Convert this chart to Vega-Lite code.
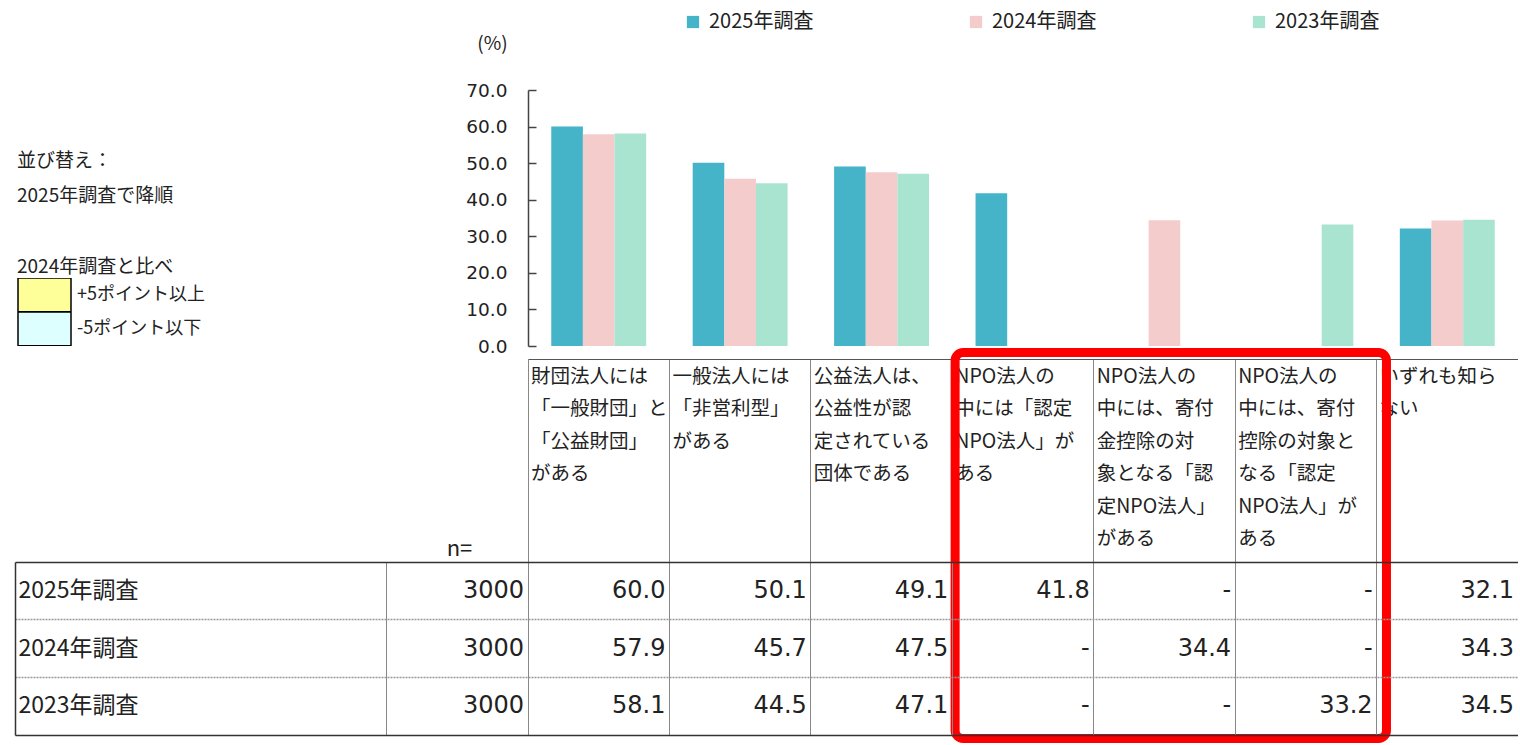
{
  "$schema": "https://vega.github.io/schema/vega-lite/v6.json",
  "padding": {"left": 15, "top": 12, "right": 0, "bottom": 0},
  "autosize": {"type": "pad"},
  "background": "white",
  "spacing": 472,
  "bounds": "flush",
  "config": {
    "font": "Noto Sans CJK JP",
    "view": {"stroke": null},
    "axis": {"labelFontWeight": "normal", "titleFontWeight": "normal"}
  },
  "datasets": {
    "results": [
      {"category": "財団法人には\n「一般財団」と\n「公益財団」\nがある", "survey": "2025年調査", "value": 60.0},
      {"category": "財団法人には\n「一般財団」と\n「公益財団」\nがある", "survey": "2024年調査", "value": 57.9},
      {"category": "財団法人には\n「一般財団」と\n「公益財団」\nがある", "survey": "2023年調査", "value": 58.1},
      {"category": "一般法人には\n「非営利型」\nがある", "survey": "2025年調査", "value": 50.1},
      {"category": "一般法人には\n「非営利型」\nがある", "survey": "2024年調査", "value": 45.7},
      {"category": "一般法人には\n「非営利型」\nがある", "survey": "2023年調査", "value": 44.5},
      {"category": "公益法人は、\n公益性が認\n定されている\n団体である", "survey": "2025年調査", "value": 49.1},
      {"category": "公益法人は、\n公益性が認\n定されている\n団体である", "survey": "2024年調査", "value": 47.5},
      {"category": "公益法人は、\n公益性が認\n定されている\n団体である", "survey": "2023年調査", "value": 47.1},
      {"category": "NPO法人の\n中には「認定\nNPO法人」が\nある", "survey": "2025年調査", "value": 41.8},
      {"category": "NPO法人の\n中には「認定\nNPO法人」が\nある", "survey": "2024年調査", "value": null},
      {"category": "NPO法人の\n中には「認定\nNPO法人」が\nある", "survey": "2023年調査", "value": null},
      {"category": "NPO法人の\n中には、寄付\n金控除の対\n象となる「認\n定NPO法人」\nがある", "survey": "2025年調査", "value": null},
      {"category": "NPO法人の\n中には、寄付\n金控除の対\n象となる「認\n定NPO法人」\nがある", "survey": "2024年調査", "value": 34.4},
      {"category": "NPO法人の\n中には、寄付\n金控除の対\n象となる「認\n定NPO法人」\nがある", "survey": "2023年調査", "value": null},
      {"category": "NPO法人の\n中には、寄付\n控除の対象と\nなる「認定\nNPO法人」が\nある", "survey": "2025年調査", "value": null},
      {"category": "NPO法人の\n中には、寄付\n控除の対象と\nなる「認定\nNPO法人」が\nある", "survey": "2024年調査", "value": null},
      {"category": "NPO法人の\n中には、寄付\n控除の対象と\nなる「認定\nNPO法人」が\nある", "survey": "2023年調査", "value": 33.2},
      {"category": "いずれも知ら\nない", "survey": "2025年調査", "value": 32.1},
      {"category": "いずれも知ら\nない", "survey": "2024年調査", "value": 34.3},
      {"category": "いずれも知ら\nない", "survey": "2023年調査", "value": 34.5}
    ],
    "samples": [
      {"survey": "2025年調査", "n": 3000},
      {"survey": "2024年調査", "n": 3000},
      {"survey": "2023年調査", "n": 3000}
    ]
  },
  "vconcat": [
    {
      "spacing": 0,
      "bounds": "flush",
      "hconcat": [
        {
          "width": 513,
          "height": 256,
          "data": {"values": []},
          "mark": {"type": "rect"},
          "encoding": {
            "fill": {
              "field": "change",
              "type": "nominal",
              "scale": {"domain": ["+5ポイント以上", "-5ポイント以下"], "range": ["#FFFF99", "#DDFFFF"]},
              "legend": {
                "orient": "none",
                "legendX": 2,
                "legendY": 62,
                "title": ["並び替え：", "2025年調査で降順", "\u200b", "2024年調査と比べ"],
                "titleFontSize": 19,
                "titleFontWeight": "normal",
                "titleLineHeight": 35.3,
                "titleColor": "#222222",
                "titlePadding": 1,
                "titleAnchor": "start",
                "titleLimit": 400,
                "symbolType": "M-1,-0.64L1,-0.64L1,0.64L-1,0.64Z",
                "symbolSize": 2809,
                "symbolStrokeColor": "#000000",
                "symbolStrokeWidth": 1.5,
                "symbolOpacity": 1,
                "clipHeight": 34,
                "labelFontSize": 18,
                "labelOffset": 5,
                "labelColor": "#222222",
                "rowPadding": 0
              }
            }
          }
        },
        {
          "width": 990,
          "height": 256,
          "data": {"name": "results"},
          "layer": [
            {
              "mark": {"type": "bar"},
              "encoding": {
                "x": {
                  "field": "category",
                  "type": "nominal",
                  "sort": null,
                  "scale": {
                    "type": "band",
                    "domain": [
                      "財団法人には\n「一般財団」と\n「公益財団」\nがある",
                      "一般法人には\n「非営利型」\nがある",
                      "公益法人は、\n公益性が認\n定されている\n団体である",
                      "NPO法人の\n中には「認定\nNPO法人」が\nある",
                      "NPO法人の\n中には、寄付\n金控除の対\n象となる「認\n定NPO法人」\nがある",
                      "NPO法人の\n中には、寄付\n控除の対象と\nなる「認定\nNPO法人」が\nある",
                      "いずれも知ら\nない"
                    ],
                    "paddingInner": 0,
                    "paddingOuter": 0
                  },
                  "axis": {
                    "orient": "bottom",
                    "offset": 13,
                    "title": null,
                    "bandPosition": 0,
                    "domain": true,
                    "domainColor": "#555555",
                    "domainWidth": 1.2,
                    "ticks": true,
                    "tickSize": 203,
                    "tickColor": "#888888",
                    "tickWidth": 1,
                    "labelExpr": "split(datum.value, '\\n')",
                    "labelAlign": "left",
                    "labelBaseline": "top",
                    "labelAngle": 0,
                    "labelOffset": -67.7,
                    "labelPadding": -195,
                    "labelFontSize": 19.5,
                    "labelLineHeight": 32.5,
                    "labelColor": "#222222",
                    "labelOverlap": false,
                    "labelLimit": 0,
                    "labelBound": false,
                    "labelFlush": false
                  }
                },
                "xOffset": {
                  "field": "survey",
                  "type": "nominal",
                  "scale": {"domain": ["2025年調査", "2024年調査", "2023年調査"], "paddingInner": 0, "paddingOuter": 0.735}
                },
                "y": {
                  "field": "value",
                  "type": "quantitative",
                  "scale": {"domain": [0, 70], "nice": false},
                  "axis": {
                    "title": "(%)",
                    "titleAngle": 0,
                    "titleX": -36,
                    "titleY": -47,
                    "titleAlign": "center",
                    "titleBaseline": "middle",
                    "titleFontSize": 19,
                    "titleColor": "#222222",
                    "values": [0, 10, 20, 30, 40, 50, 60, 70],
                    "format": ".1f",
                    "grid": false,
                    "domain": true,
                    "domainColor": "#444444",
                    "domainWidth": 1.5,
                    "ticks": true,
                    "tickSize": -8,
                    "tickColor": "#444444",
                    "tickWidth": 1.5,
                    "labelPadding": 29,
                    "labelOverlap": false,
                    "labelFont": "DejaVu Sans",
                    "labelFontSize": 18.5,
                    "labelColor": "#222222"
                  }
                },
                "color": {
                  "field": "survey",
                  "type": "nominal",
                  "scale": {"domain": ["2025年調査", "2024年調査", "2023年調査"], "range": ["#45B4C8", "#F4CCCC", "#A9E4D0"]},
                  "legend": {
                    "orient": "none",
                    "legendX": 668,
                    "legendY": -78,
                    "direction": "horizontal",
                    "title": null,
                    "symbolType": "square",
                    "symbolSize": 150,
                    "symbolStrokeWidth": 0,
                    "labelFontSize": 20,
                    "labelOffset": 6,
                    "labelColor": "#222222",
                    "columnPadding": 152
                  }
                }
              }
            },
            {
              "data": {"values": [{"from": "NPO法人の\n中には「認定\nNPO法人」が\nある", "to": "NPO法人の\n中には、寄付\n控除の対象と\nなる「認定\nNPO法人」が\nある"}]},
              "mark": {"type": "rect", "filled": false, "stroke": "#FF0000", "strokeWidth": 9, "cornerRadius": 8, "clip": false},
              "encoding": {
                "x": {"field": "from", "type": "nominal", "bandPosition": 0.02},
                "x2": {"field": "to", "bandPosition": 1.07},
                "y": {
                  "datum": -1.8,
                  "type": "quantitative",
                  "axis": {
                    "title": "(%)",
                    "titleAngle": 0,
                    "titleX": -36,
                    "titleY": -47,
                    "titleAlign": "center",
                    "titleBaseline": "middle",
                    "titleFontSize": 19,
                    "titleColor": "#222222",
                    "values": [0, 10, 20, 30, 40, 50, 60, 70],
                    "format": ".1f",
                    "grid": false,
                    "domain": true,
                    "domainColor": "#444444",
                    "domainWidth": 1.5,
                    "ticks": true,
                    "tickSize": -8,
                    "tickColor": "#444444",
                    "tickWidth": 1.5,
                    "labelPadding": 29,
                    "labelOverlap": false,
                    "labelFont": "DejaVu Sans",
                    "labelFontSize": 18.5,
                    "labelColor": "#222222"
                  }
                },
                "y2": {"datum": -107.3}
              }
            }
          ]
        }
      ]
    },
    {
      "width": 1503,
      "height": 173,
      "data": {"name": "results"},
      "encoding": {
        "y": {
          "field": "survey",
          "type": "nominal",
          "sort": null,
          "scale": {"type": "band", "domain": ["2025年調査", "2024年調査", "2023年調査"], "paddingInner": 0, "paddingOuter": 0},
          "axis": {
            "orient": "left",
            "title": "n=",
            "titleAngle": 0,
            "titleX": 444,
            "titleY": -14,
            "titleAlign": "center",
            "titleBaseline": "middle",
            "titleFontSize": 22,
            "titleColor": "#222222",
            "domain": true,
            "domainColor": "#333333",
            "domainWidth": 1.5,
            "ticks": false,
            "tickSize": 0,
            "bandPosition": 0,
            "labelAlign": "left",
            "labelBaseline": "middle",
            "labelPadding": -3,
            "labelFontSize": 23,
            "labelColor": "#222222",
            "grid": true,
            "gridColor": {"condition": {"test": "datum.value === '2025年調査'", "value": "#333333"}, "value": "#999999"},
            "gridDash": {"condition": {"test": "datum.value === '2025年調査'", "value": []}, "value": [2, 1]},
            "gridWidth": 1.3
          }
        }
      },
      "layer": [
        {
          "mark": {"type": "text", "align": "right", "baseline": "middle", "dx": -4, "font": "DejaVu Sans", "fontSize": 24, "color": "#222222"},
          "encoding": {
            "x": {
              "field": "category",
              "type": "nominal",
              "bandPosition": 1,
              "scale": {
                "type": "band",
                "domain": [
                  "調査",
                  "n",
                  "財団法人には\n「一般財団」と\n「公益財団」\nがある",
                  "一般法人には\n「非営利型」\nがある",
                  "公益法人は、\n公益性が認\n定されている\n団体である",
                  "NPO法人の\n中には「認定\nNPO法人」が\nある",
                  "NPO法人の\n中には、寄付\n金控除の対\n象となる「認\n定NPO法人」\nがある",
                  "NPO法人の\n中には、寄付\n控除の対象と\nなる「認定\nNPO法人」が\nある",
                  "いずれも知ら\nない"
                ],
                "paddingInner": 0,
                "paddingOuter": 0.81364,
                "align": 1
              },
              "axis": {
                "orient": "bottom",
                "title": null,
                "values": [
                  "n",
                  "財団法人には\n「一般財団」と\n「公益財団」\nがある",
                  "一般法人には\n「非営利型」\nがある",
                  "公益法人は、\n公益性が認\n定されている\n団体である",
                  "NPO法人の\n中には「認定\nNPO法人」が\nある",
                  "NPO法人の\n中には、寄付\n金控除の対\n象となる「認\n定NPO法人」\nがある",
                  "NPO法人の\n中には、寄付\n控除の対象と\nなる「認定\nNPO法人」が\nある",
                  "いずれも知ら\nない"
                ],
                "bandPosition": 0,
                "labels": false,
                "ticks": false,
                "domain": true,
                "domainColor": "#333333",
                "domainWidth": 1.5,
                "grid": true,
                "gridColor": "#888888",
                "gridWidth": 1
              }
            },
            "text": {
              "condition": {"test": "!isValid(datum.value)", "value": "-"},
              "field": "value",
              "type": "quantitative",
              "format": ".1f"
            }
          }
        },
        {
          "data": {"name": "samples"},
          "mark": {"type": "text", "align": "right", "baseline": "middle", "dx": -4, "font": "DejaVu Sans", "fontSize": 24, "color": "#222222"},
          "encoding": {
            "x": {"datum": "n", "type": "nominal", "bandPosition": 1},
            "text": {"field": "n", "type": "quantitative", "format": "d"}
          }
        }
      ]
    }
  ]
}
